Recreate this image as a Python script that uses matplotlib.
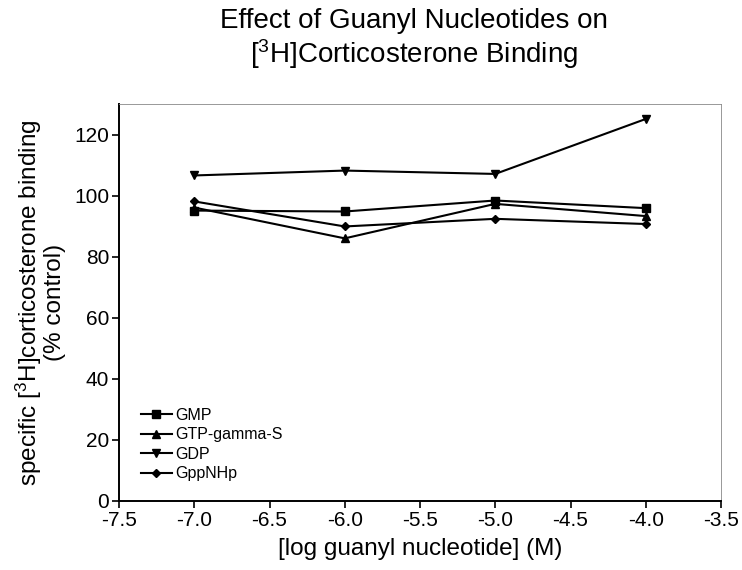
import matplotlib
matplotlib.use("Agg")
import matplotlib.pyplot as plt
import numpy as np

plt.rcParams['font.family'] = ['Liberation Sans', 'DejaVu Sans']
plt.rcParams['mathtext.default'] = 'regular'

# data
log_conc = [-7.0, -6.0, -5.0, -4.0]
gmp = [95.1, 94.8, 98.4, 95.9]
gtp_gamma_s = [96.1, 86.0, 97.3, 93.3]
gdp = [106.6, 108.2, 107.1, 125.1]
gppnhp = [98.1, 89.9, 92.4, 90.7]

series = [
    ("GMP", gmp, "s", 6),
    ("GTP-gamma-S", gtp_gamma_s, "^", 6),
    ("GDP", gdp, "v", 6),
    ("GppNHp", gppnhp, "D", 4.5),
]

xticks = np.arange(-7.5, -3.49, 0.5)
yticks = [0, 20, 40, 60, 80, 100, 120]

fig = plt.figure(figsize=(7.42, 5.70), dpi=100)
ax = fig.add_axes([119 / 742, 69 / 570, 602 / 742, 397 / 570])

for name, vals, mk, ms in series:
    ax.plot(log_conc, vals, color="black", lw=1.5, marker=mk, ms=ms, label=name)

ax.set_xlim(-7.5, -3.5)
ax.set_ylim(0, 130)
ax.set_xticks(xticks)
ax.set_xticklabels(["%.1f" % v for v in xticks])
ax.set_yticks(yticks)
ax.tick_params(direction="out", length=5, width=1.2, labelsize=15, pad=2)

for side in ["left", "bottom"]:
    ax.spines[side].set_linewidth(1.4)
# the frame's top and right edges are only faint in the scan
for side in ["top", "right"]:
    ax.spines[side].set_linewidth(0.6)
    ax.spines[side].set_color("#888888")

ax.set_xlabel("[log guanyl nucleotide] (M)", fontsize=17.5, labelpad=6)
ax.set_ylabel("specific [$^{3}$H]corticosterone binding\n(% control)",
              fontsize=17.5, labelpad=6, linespacing=1.0)

fig.text(0.558, 1 - 21 / 570, "Effect of Guanyl Nucleotides on", ha="center", va="center",
         fontsize=20)
fig.text(0.558, 1 - 54 / 570, "[$^{3}$H]Corticosterone Binding", ha="center", va="center",
         fontsize=20)

ax.legend(loc="lower left", bbox_to_anchor=(0.037, 0.05), frameon=False,
          fontsize=11.5, handlelength=1.9, handletextpad=0.2,
          labelspacing=0.28, borderpad=0, borderaxespad=0)

fig.savefig("out.png", dpi=100)
